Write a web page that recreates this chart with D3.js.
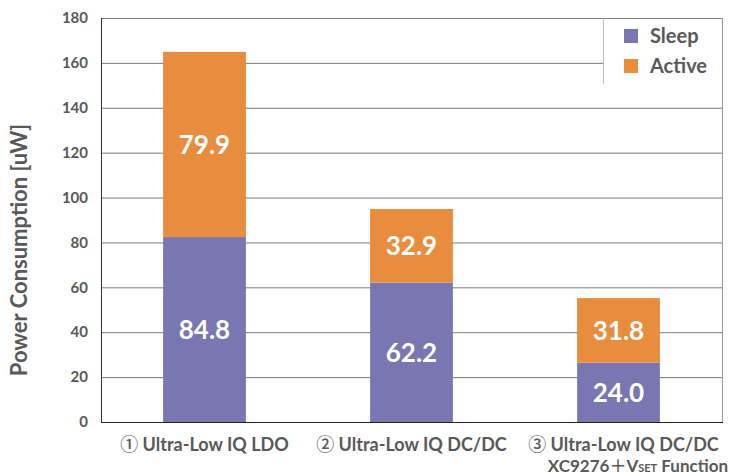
<!DOCTYPE html>
<html>
<head>
<meta charset="utf-8">
<script src="https://cdn.jsdelivr.net/npm/d3@7"></script>
<style>
  html, body { margin: 0; padding: 0; background: #fff; }
  svg { display: block; font-family: Lato, "Open Sans", sans-serif; font-weight: bold; }
  .cjk { font-family: "Noto Sans CJK JP", sans-serif; font-weight: 500; }
</style>
</head>
<body>
<svg width="730" height="476"></svg>
<script>
const categories = ["① Ultra-Low IQ LDO", "② Ultra-Low IQ DC/DC", "③ Ultra-Low IQ DC/DC"];
// bar heights as drawn
const sleep = [82.4, 62.1, 26.4];
const active = [82.5, 32.8, 28.8];
// values printed on the bars
const sleep_labels = ["84.8", "62.2", "24.0"];
const active_labels = ["79.9", "32.9", "31.8"];
const series = ["Sleep", "Active"];
const colors = ["#7977B1", "#E88C3D"];
const y_ticks = [0, 20, 40, 60, 80, 100, 120, 140, 160, 180];

const svg = d3.select("svg");
const plot_l = 101, plot_r = 722, plot_t = 18, plot_b = 422;

const x = d3.scaleBand(categories, [plot_l, plot_r]);
const y = d3.scaleLinear([0, 180], [plot_b, plot_t]);
const bar_w = x.bandwidth() * 0.4;

const rows = categories.map((c, i) => ({ cat: c, i: i, Sleep: sleep[i], Active: active[i] }));
const stacked = d3.stack().keys(series)(rows);
const color = d3.scaleOrdinal(series, colors);
const label_of = { Sleep: sleep_labels, Active: active_labels };

// gridlines
svg.append("g")
  .selectAll("line")
  .data(y_ticks.filter(d => d > 0))
  .join("line")
    .attr("x1", plot_l).attr("x2", plot_r)
    .attr("y1", d => y(d) + 0.5).attr("y2", d => y(d) + 0.5)
    .attr("stroke", "#7a7a7a")
    .attr("stroke-width", 1);

// right frame
svg.append("line")
  .attr("x1", plot_r + 0.5).attr("x2", plot_r + 0.5)
  .attr("y1", plot_t).attr("y2", plot_b)
  .attr("stroke", "#9a9a9a");

// bars
const layer = svg.append("g")
  .selectAll("g")
  .data(stacked)
  .join("g")
    .attr("fill", d => color(d.key));

layer.selectAll("rect")
  .data(d => d)
  .join("rect")
    .attr("x", d => x(d.data.cat) + (x.bandwidth() - bar_w) / 2)
    .attr("width", bar_w)
    .attr("y", d => y(d[1]))
    .attr("height", d => y(d[0]) - y(d[1]));

// value labels
layer.selectAll("text")
  .data(s => s.map(d => ({ d: d, key: s.key })))
  .join("text")
    .attr("x", o => x(o.d.data.cat) + x.bandwidth() / 2)
    .attr("y", o => y((o.d[0] + o.d[1]) / 2))
    .attr("dy", "0.36em")
    .attr("text-anchor", "middle")
    .attr("fill", "#fff")
    .attr("font-size", 26)
    .text(o => label_of[o.key][o.d.data.i]);

// axes lines
svg.append("line")
  .attr("x1", plot_l + 0.5).attr("x2", plot_l + 0.5)
  .attr("y1", plot_t).attr("y2", plot_b)
  .attr("stroke", "#333");
svg.append("line")
  .attr("x1", plot_l).attr("x2", plot_r + 1)
  .attr("y1", plot_b + 0.5).attr("y2", plot_b + 0.5)
  .attr("stroke", "#222");

// y tick labels
svg.append("g")
  .selectAll("text")
  .data(y_ticks)
  .join("text")
    .attr("x", 88)
    .attr("y", d => y(d))
    .attr("dy", "0.35em")
    .attr("text-anchor", "end")
    .attr("fill", "#595959")
    .attr("font-size", 15)
    .text(d => d);

svg.append("text")
  .attr("transform", `translate(27,${(plot_t + plot_b) / 2 + 30}) rotate(-90)`)
  .attr("text-anchor", "middle")
  .attr("fill", "#595959")
  .attr("font-size", 22)
  .text("Power Consumption [uW]");

// category labels
const cat = svg.append("g")
  .selectAll("text")
  .data(categories)
  .join("text")
    .attr("x", (d, i) => x(d) + x.bandwidth() / 2 + (i === 2 ? 5 : 0))
    .attr("y", 451)
    .attr("text-anchor", "middle")
    .attr("fill", "#595959")
    .attr("font-size", 18);
cat.append("tspan").attr("class", "cjk").attr("font-size", 18).text(d => d.slice(0, 1));
cat.append("tspan").text(d => d.slice(1));

const sub = svg.append("text")
  .attr("x", plot_r + 6)
  .attr("y", 472)
  .attr("text-anchor", "end")
  .attr("fill", "#595959")
  .attr("font-size", 17);
sub.append("tspan").text("XC9276");
sub.append("tspan").attr("class", "cjk").attr("font-weight", "normal").text("＋");
sub.append("tspan").text("V");
sub.append("tspan").attr("font-size", 11).text("SET");
sub.append("tspan").text(" Function");

// legend
const lg = svg.append("g");
lg.append("rect")
  .attr("x", 603).attr("y", plot_t + 1)
  .attr("width", plot_r - 603).attr("height", 65)
  .attr("fill", "#fff");
lg.append("line")
  .attr("x1", 603.5).attr("x2", 603.5)
  .attr("y1", plot_t).attr("y2", 84)
  .attr("stroke", "#bdbdbd");
const item = lg.selectAll("g")
  .data(series)
  .join("g")
    .attr("transform", (d, i) => `translate(624,${29 + i * 30})`);
item.append("rect")
  .attr("width", 14).attr("height", 14)
  .attr("fill", d => color(d));
item.append("text")
  .attr("x", 26).attr("y", 7)
  .attr("dy", "0.36em")
  .attr("fill", "#595959")
  .attr("font-size", 20)
  .text(d => d);
</script>
</body>
</html>
